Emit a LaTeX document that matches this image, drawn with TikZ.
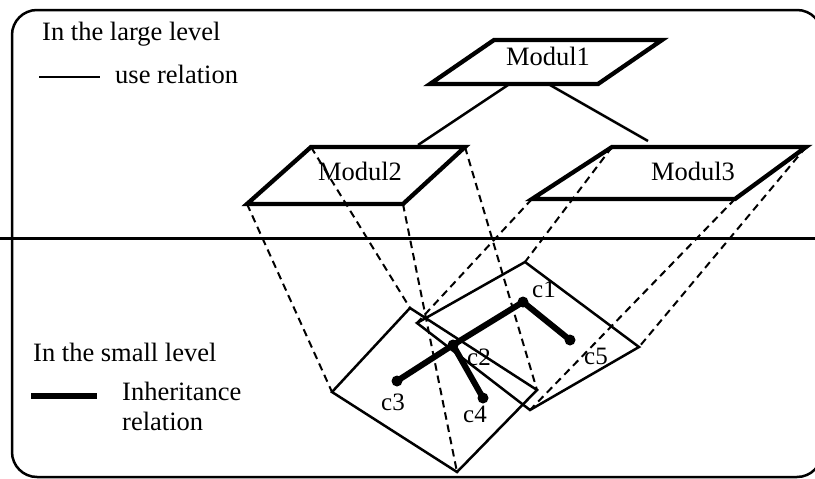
\documentclass[tikz,border=0pt]{standalone}
\usepackage{fontspec}
\setmainfont{Liberation Serif}
\begin{document}
\begin{tikzpicture}[x=1pt,y=-1pt,
  modbox/.style={line width=4.3pt},
  sqbox/.style={line width=2.5pt},
  proj/.style={line width=2pt,dash pattern=on 7.5pt off 5pt},
  inh/.style={line width=6pt,line cap=round},
  userel/.style={line width=2.5pt},
  lbl/.style={font=\fontsize{26.5}{30}\selectfont,inner sep=0pt},
  clbl/.style={font=\fontsize{25}{30}\selectfont,inner sep=0pt},
  cls/.style={circle,fill=black,minimum size=11pt,inner sep=0pt}]
\useasboundingbox (0,0) rectangle (815,479);
\clip (0,0) rectangle (815,479);
% frame and divider
\draw[line width=2.5pt,rounded corners=25pt] (12,10) rectangle (822,477);
\draw[line width=3pt] (0,238.5) -- (815,238.5);
% module corners
\coordinate (m1bl) at (430,84); \coordinate (m1br) at (598,84);
\coordinate (m1tr) at (662,40); \coordinate (m1tl) at (494,40);
\coordinate (m2bl) at (247,204); \coordinate (m2br) at (403,204);
\coordinate (m2tr) at (465,147); \coordinate (m2tl) at (311,147);
\coordinate (m3bl) at (532,199); \coordinate (m3br) at (735,199);
\coordinate (m3tr) at (806,147); \coordinate (m3tl) at (612,147);
% small level squares
\coordinate (al) at (332,392); \coordinate (at) at (410,308);
\coordinate (ar) at (537,390); \coordinate (ab) at (457,472);
\coordinate (bl) at (417,323); \coordinate (bt) at (525,262);
\coordinate (br) at (639,347); \coordinate (bb) at (530,410);
% modules
\draw[modbox] (m1bl) -- (m1br) -- (m1tr) -- (m1tl) -- cycle;
\draw[modbox] (m2bl) -- (m2br) -- (m2tr) -- (m2tl) -- cycle;
\draw[modbox] (m3bl) -- (m3br) -- (m3tr) -- (m3tl) -- cycle;
\node[lbl,anchor=base] (t1) at (548,65) {Modul1};
\node[lbl,anchor=base] (t2) at (360,180) {Modul2};
\node[lbl,anchor=base] (t3) at (693,180) {Modul3};
% use relations
\coordinate (u1a) at (508,85); \coordinate (u1b) at (418,145);
\coordinate (u2a) at (550,85); \coordinate (u2b) at (648,141);
\draw[userel] (u1a) -- (u1b);
\draw[userel] (u2a) -- (u2b);
% projections
\draw[proj] (m2bl) -- (al);
\draw[proj] (m2tl) -- (at);
\draw[proj] (m2br) -- (ab);
\draw[proj] (m2tr) -- (ar);
\draw[proj] (m3bl) -- (bl);
\draw[proj] (m3tl) -- (bt);
\draw[proj] (m3br) -- (bb);
\draw[proj] (m3tr) -- (br);
% squares
\draw[sqbox] (al) -- (at) -- (ar) -- (ab) -- cycle;
\draw[sqbox] (bl) -- (bt) -- (br) -- (bb) -- cycle;
% classes
\node[cls] (c1) at (523,302) {};
\node[cls] (c2) at (453,345) {};
\node[cls] (c3) at (397,381) {};
\node[cls] (c4) at (483,398) {};
\node[cls] (c5) at (570,340) {};
\draw[inh] (c1.center) -- (c5.center);
\draw[inh] (c1.center) -- (c2.center) -- (c3.center);
\draw[inh] (c2.center) -- (c4.center);
\node[clbl] (l1) at (544,289) {c1};
\node[clbl] (l2) at (479,357) {c2};
\node[clbl] (l3) at (393,402) {c3};
\node[clbl] (l4) at (475,414) {c4};
\node[clbl] (l5) at (596,356) {c5};
% legends
\node[lbl,anchor=base west] (lg1) at (42,40) {In the large level};
\coordinate (lu1) at (39,77); \coordinate (lu2) at (100,77);
\draw[userel] (lu1) -- (lu2);
\node[lbl,anchor=base west] (lg2) at (115,83) {use relation};
\node[lbl,anchor=base west] (lg3) at (33,361) {In the small level};
\coordinate (li1) at (31,396); \coordinate (li2) at (97,396);
\draw[line width=5.5pt] (li1) -- (li2);
\node[lbl,anchor=base west] (lg4) at (122,400) {Inheritance};
\node[lbl,anchor=base west] (lg5) at (122,430) {relation};
\end{tikzpicture}
\end{document}
